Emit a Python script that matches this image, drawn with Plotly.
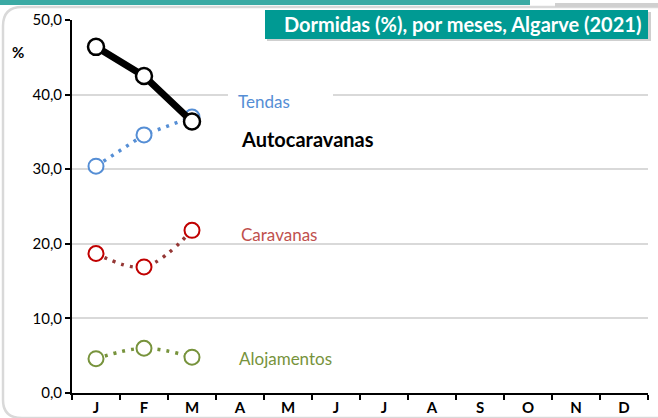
import plotly.graph_objects as go

months = ["J", "F", "M", "A", "M ", "J ", "J  ", "A ", "S", "O", "N", "D"]
month_labels = ["J", "F", "M", "A", "M", "J", "J", "A", "S", "O", "N", "D"]
obs_months = ["J", "F", "M"]

autocaravanas = [46.4, 42.5, 36.4]
tendas = [30.4, 34.6, 37.0]
caravanas = [18.7, 16.9, 21.8]
alojamentos = [4.6, 6.0, 4.8]

y_ticks = [0, 10, 20, 30, 40, 50]

FONT = "Lato, Carlito, 'Liberation Sans', sans-serif"

W, H = 658, 418
ML, MR, MT, MB = 72, 10, 20, 25
PW, PH = W - ML - MR, H - MT - MB


def px(x):
    return (x - ML) / PW


def py(y):
    return (H - MB - y) / PH


DOT = "3px,6px"

fig = go.Figure()

fig.add_trace(go.Scatter(
    x=obs_months, y=tendas, mode="lines+markers", name="Tendas",
    line=dict(color="#558ED5", width=3.5, dash=DOT),
    marker=dict(symbol="circle", size=15, color="white",
                line=dict(color="#558ED5", width=2)),
))
fig.add_trace(go.Scatter(
    x=obs_months, y=caravanas, mode="lines+markers", name="Caravanas",
    line=dict(color="#953735", width=3.5, dash=DOT, shape="spline"),
    marker=dict(symbol="circle", size=15, color="white",
                line=dict(color="#C00000", width=2)),
))
fig.add_trace(go.Scatter(
    x=obs_months, y=alojamentos, mode="lines+markers", name="Alojamentos",
    line=dict(color="#77933C", width=3.5, dash=DOT, shape="spline"),
    marker=dict(symbol="circle", size=15, color="white",
                line=dict(color="#77933C", width=2)),
))
fig.add_trace(go.Scatter(
    x=obs_months, y=autocaravanas, mode="lines+markers", name="Autocaravanas",
    line=dict(color="black", width=7),
    marker=dict(symbol="circle", size=16, color="white",
                line=dict(color="black", width=2.5)),
))

fig.update_xaxes(
    type="category", categoryorder="array", categoryarray=months,
    tickmode="array", tickvals=months, ticktext=[f"<b>{m}</b>" for m in month_labels],
    range=[-0.5, 11.5], showgrid=False, showline=True, linecolor="black",
    linewidth=2, ticks="outside", ticklen=5, tickwidth=2, tickcolor="black",
    tickson="boundaries", tickfont=dict(family=FONT, size=15, color="black"),
    zeroline=False, automargin=False,
)
fig.update_yaxes(
    range=[0, 50], tickmode="array", tickvals=y_ticks,
    ticktext=[f"{v:.1f}".replace(".", ",") for v in y_ticks],
    showgrid=True, gridcolor="#D9D9D9", gridwidth=1.5,
    showline=True, linecolor="black", linewidth=2, ticks="outside",
    ticklen=5, tickwidth=2, tickcolor="black",
    tickfont=dict(family=FONT, size=15, color="black"), zeroline=False,
    automargin=False,
)

shapes = [
    # rounded outer border
    dict(type="path", xref="paper", yref="paper",
         path=f"M {px(700)} {py(7)} L {px(22)} {py(7)} Q {px(3)} {py(7)} {px(3)} {py(26)} "
              f"L {px(3)} {py(400)} Q {px(3)} {py(418)} {px(22)} {py(418)} L {px(700)} {py(418)}",
         line=dict(color="#D9D9D9", width=2.5), layer="below"),
    # top teal band
    dict(type="rect", xref="paper", yref="paper", x0=px(0), x1=px(530), y0=py(5), y1=py(-3),
         fillcolor="#3BAAA4", line=dict(width=0)),
    dict(type="rect", xref="paper", yref="paper", x0=px(555), x1=px(660), y0=py(7), y1=py(3),
         fillcolor="#D0D0D0", line=dict(width=0)),
    # title box shadow + box
    dict(type="rect", xref="paper", yref="paper", x0=px(267), x1=px(651), y0=py(41), y1=py(12),
         fillcolor="#CFCFCF", line=dict(width=0)),
    dict(type="rect", xref="paper", yref="paper", x0=px(265), x1=px(648), y0=py(39), y1=py(10),
         fillcolor="#009A93", line=dict(width=0)),
    # white label box behind "Tendas"
    dict(type="rect", xref="paper", yref="paper", x0=px(228), x1=px(333), y0=py(110), y1=py(90),
         fillcolor="white", line=dict(width=0)),
]

annotations = [
    dict(text="<b>Dormidas (%), por meses, Algarve (2021)</b>", xref="paper", yref="paper",
         x=px(462), y=py(24), xanchor="center", yanchor="middle", showarrow=False,
         font=dict(family=FONT, size=20, color="white")),
    dict(text="<b>%</b>", xref="paper", yref="paper", x=px(18), y=py(52),
         xanchor="center", yanchor="middle", showarrow=False,
         font=dict(family=FONT, size=15, color="black")),
    dict(text="Tendas", xref="paper", yref="paper", x=px(236), y=py(101),
         xanchor="left", yanchor="middle", showarrow=False,
         font=dict(family=FONT, size=17, color="#558ED5")),
    dict(text="<b>Autocaravanas</b>", xref="paper", yref="paper", x=px(239), y=py(139),
         xanchor="left", yanchor="middle", showarrow=False,
         font=dict(family=FONT, size=20, color="black")),
    dict(text="Caravanas", xref="paper", yref="paper", x=px(239), y=py(235),
         xanchor="left", yanchor="middle", showarrow=False,
         font=dict(family=FONT, size=17, color="#C0504D")),
    dict(text="Alojamentos", xref="paper", yref="paper", x=px(237), y=py(358),
         xanchor="left", yanchor="middle", showarrow=False,
         font=dict(family=FONT, size=17, color="#77933C")),
]

fig.update_layout(
    width=W, height=H, margin=dict(l=ML, r=MR, t=MT, b=MB),
    paper_bgcolor="white", plot_bgcolor="white", showlegend=False,
    shapes=shapes, annotations=annotations,
    font=dict(family=FONT),
)

fig.write_html(
    "out.html",
    config={"displayModeBar": False},
    post_script="document.body.style.margin='0';document.body.style.padding='0';"
                "document.body.style.overflow='hidden';",
)
